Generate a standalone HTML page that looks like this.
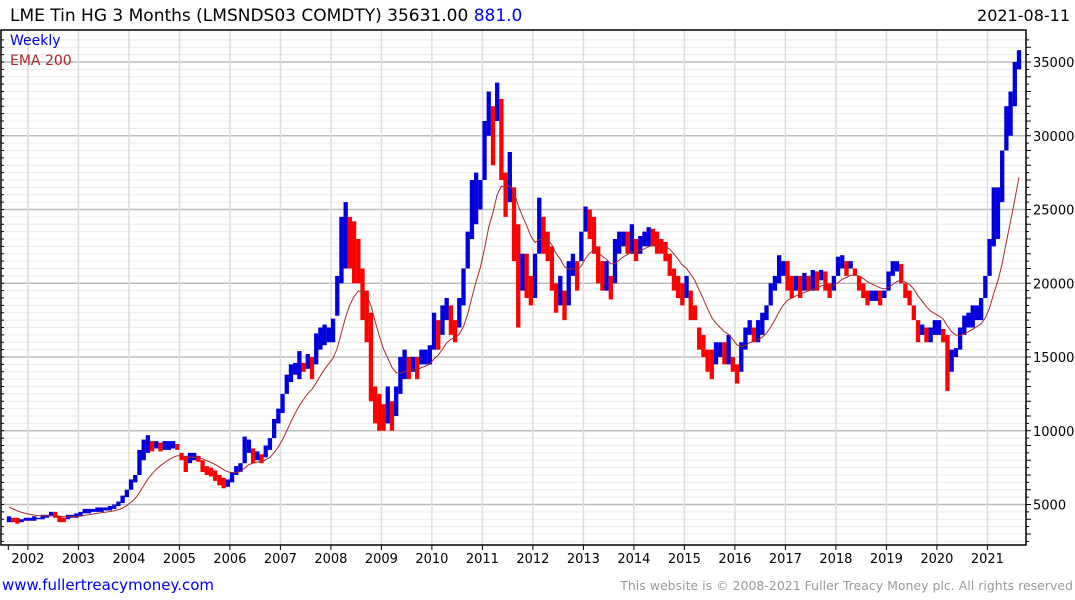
<!DOCTYPE html>
<html><head><meta charset="utf-8"><style>
body{margin:0;width:1075px;height:600px;background:#fff;overflow:hidden;font-family:"DejaVu Sans","Liberation Sans",sans-serif}
svg{position:absolute;left:0;top:0}
</style></head><body>
<svg id="chart" width="1075" height="600">
<text x="10" y="21" font-size="17" fill="#000">LME Tin HG  3 Months (LMSNDS03 COMDTY) 35631.00 <tspan fill="#0000ee">881.0</tspan></text>
<text x="1070" y="21" font-size="16" text-anchor="end" fill="#000">2021-08-11</text>
<g id="grid"></g><g id="bars"></g><g id="ema"></g><g id="axes"></g>
<text x="10" y="45" font-size="14" fill="#0000dd">Weekly</text>
<text x="10" y="65" font-size="14" fill="#a52a2a">EMA 200</text>
<text x="2" y="590" font-size="15" fill="#0000ee">www.fullertreacymoney.com</text>
<text x="1073" y="590" font-size="12.5" text-anchor="end" fill="#999">This website is © 2008-2021 Fuller Treacy Money plc. All rights reserved</text>
</svg>
<script>
const startYear = 2001 + 7/12; // Aug 2001
const yearLabels = [2002,2003,2004,2005,2006,2007,2008,2009,2010,2011,2012,2013,2014,2015,2016,2017,2018,2019,2020,2021];
const priceTicks = [5000,10000,15000,20000,25000,30000,35000];
const highs = [
4200,4100,4100,4000,4100,
4100,4200,4100,4300,4300,4500,4500,4200,4100,4300,4300,4400,
4500,4700,4700,4700,4800,4800,4800,4900,5000,5200,5600,6000,
6700,7000,8700,9400,9700,9300,9300,9200,9300,9300,9300,9100,
8500,8300,8500,8500,8300,8000,7600,7500,7300,7000,6800,6700,
7200,7600,7800,9600,9400,8800,8600,8400,9000,9500,10800,11500,
12500,13800,14500,14600,15400,14600,15200,15000,16600,17000,17200,17000,
17600,20500,24500,25500,24500,24200,23000,21000,19500,18000,13000,12500,
11800,13000,12000,13000,15000,15500,15000,15000,15000,15500,15500,15800,
18000,17500,18500,19000,18500,17500,19000,21000,23500,27000,27500,27000,
31000,33000,32000,33600,32500,27500,28900,26500,24000,22000,22000,20500,
22000,25800,24500,23500,22500,20000,20500,19500,21500,22000,21500,23500,
25200,25000,24500,22500,21500,21500,20500,23000,23500,23500,23500,24000,
23000,23200,23500,23800,23700,23500,23000,22800,22000,21000,20500,20000,
20500,19500,18500,17000,16500,15500,15500,16000,16000,16000,16500,15000,
14500,16000,17000,17500,17000,17500,18000,18500,20000,20500,21900,21500,
21500,20500,20500,20500,20700,20500,20900,20800,20900,20800,20000,20500,
21800,21900,21500,21500,21000,20500,20000,19500,19500,19500,19500,19500,
20800,21500,21500,21300,20000,19500,18500,17500,17200,17000,17000,17500,
17500,16900,16500,15500,15600,17000,17800,18000,18500,18500,19000,20500,
23000,26500,26500,29000,32000,33000,35000,35800];
const lows = [
3800,3800,3700,3800,3900,
3900,3900,4000,4000,4100,4200,4100,3800,3800,4000,4100,4100,
4200,4400,4400,4500,4500,4500,4600,4600,4700,4900,5100,5500,
6000,6500,7000,8000,8500,8600,8800,8600,8700,8700,8800,8700,
8000,7200,7800,8000,7900,7200,7000,6900,6600,6300,6100,6200,
6500,7000,7200,7800,8500,7800,8000,7800,8200,8700,9500,10500,
11200,12500,13300,13800,13500,14000,14200,13500,14500,15500,15800,16000,
16000,17800,20000,21000,21000,20000,20000,17500,16000,12000,10500,10000,
10000,10500,10000,11000,12500,13500,13500,14000,13500,14500,14500,14500,
15500,15500,16500,17500,16500,16000,17000,18500,21000,23000,24000,25000,
27000,30000,28000,31000,27000,24500,25500,21500,17000,19500,19000,18500,
19000,22000,22000,21500,19500,18000,18500,17500,18500,20500,19500,21500,
23500,23000,22000,20000,19500,19500,18900,20000,22000,22500,22000,22000,
21500,22000,22500,22500,22500,22000,22000,21500,20500,19500,19000,18500,
19000,17500,17500,15500,15000,14000,13500,14500,15000,14500,14500,14000,
13200,14000,15500,16500,16000,16000,16500,17500,18500,19500,20000,20500,
19500,19000,19500,19000,19500,19500,19500,19500,20200,19500,19000,19500,
20500,21000,20500,21000,20500,19500,19000,18500,18800,18800,18500,19000,
19500,20500,20800,20000,19000,18500,17500,16000,16500,16000,16000,16500,
16500,16000,12700,14000,15000,15500,16500,17000,17000,17500,17500,19000,
20500,22500,23000,25500,29000,30000,32000,34500];

const X0 = 27.9, PXY = 50.5;
function xs(t){ return X0 + (t - 2002) * PXY; }
function ys(v){ return 357 - (v - 15000) * 0.01475; }
const NS = "http://www.w3.org/2000/svg";
function mk(tag, attrs, parent){ const e = document.createElementNS(NS, tag); for (const k in attrs) e.setAttribute(k, attrs[k]); parent.appendChild(e); return e; }
const grid = document.getElementById('grid'), axes = document.getElementById('axes'), bars = document.getElementById('bars'), emaG = document.getElementById('ema');
const L = 1, R = 1026, T = 30, B = 545;
for (let v = 2500; v <= 36500; v += 500) {
  const y = ys(v); if (y < T || y > B) continue;
  const major = v % 5000 === 0;
  const gl = mk('line', {x1:L, x2:R, y1:y, y2:y, stroke: major ? '#bbb' : '#ececec', 'stroke-width': major ? 1.5 : 1}, grid);
  
  
  mk('line', {x1:R, x2:R + (v % 1000 === 0 ? 5 : 3), y1:y, y2:y, stroke:'#000'}, axes);
  mk('line', {x1:L, x2:L + 3, y1:y, y2:y, stroke:'#000'}, axes);
}
priceTicks.forEach(v => {
  const t = mk('text', {x:1033, y:ys(v) + 5, 'font-size':13, fill:'#000'}, axes);
  t.textContent = v;
  
  
});
yearLabels.forEach(yr => {
  const x = xs(yr);
  const gl = mk('line', {x1:x, x2:x, y1:T, y2:B, stroke:'#ddd', 'stroke-width':1.5}, grid);
  
  
  mk('line', {x1:x, x2:x, y1:B, y2:B + 5, stroke:'#000'}, axes);
  const t = mk('text', {x:x, y:563, 'font-size':13, 'text-anchor':'middle', fill:'#000'}, axes);
  t.textContent = yr;
  
  
});
mk('line', {x1:8.3, x2:8.3, y1:B, y2:B + 5, stroke:'#000'}, axes);
mk('rect', {x:L, y:T, width:R - L, height:B - T, fill:'none', stroke:'#000', 'stroke-width':1.5}, axes);

let prev = null, ema = 5000, pts = [];
for (let i = 0; i < highs.length; i++) {
  const t = startYear + i / 12 + 1/24;
  const x = xs(t), mid = (highs[i] + lows[i]) / 2;
  const up = prev === null ? true : mid >= prev;
  const b = mk('rect', {x:x - 2.1, y:ys(highs[i]), width:4.3, height:Math.max(1, ys(lows[i]) - ys(highs[i])), fill: up ? '#0000dd' : '#ff0000'}, bars);
  
  
  prev = mid;
  ema = ema + 0.16 * (mid - ema);
  pts.push(x.toFixed(1) + ',' + ys(ema).toFixed(1));
}
const pl = mk('polyline', {points: pts.join(' '), fill:'none', stroke:'#a52a2a', 'stroke-width':1}, emaG);


</script>
</body></html>
